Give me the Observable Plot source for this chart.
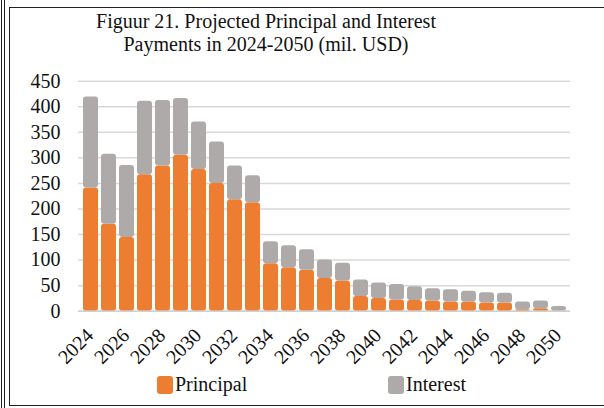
<!DOCTYPE html>
<html>
<head>
<meta charset="utf-8">
<script src="https://cdn.jsdelivr.net/npm/d3@7"></script>
<script src="https://cdn.jsdelivr.net/npm/@observablehq/plot@0.6"></script>
<style>
  html, body { margin: 0; padding: 0; background: #fff; }
  #root { position: relative; width: 604px; height: 408px; overflow: hidden; font-family: "Liberation Serif", "Times New Roman", serif; }
  .vline { position: absolute; top: 0; bottom: 0; width: 1px; background: #222; }
  #box { position: absolute; left: 9px; top: 7px; width: 620px; height: 399px; border: 1.5px solid #222; box-sizing: border-box; }
  #title { position: absolute; left: 66px; width: 400px; top: 10px; text-align: center; font-size: 20px; line-height: 23px; color: #111; }
  #chart { position: absolute; left: 0; top: 70px; }
  .leg { position: absolute; top: 373px; display: flex; align-items: center; font-size: 20px; color: #111; }
  .sw { width: 16px; height: 18px; border-radius: 3px; margin-right: 2px; }
</style>
</head>
<body>
<div id="root">
  <div class="vline" style="left:1px"></div>
  <div class="vline" style="left:4px"></div>
  <div id="box"></div>
  <div id="title">Figuur 21. Projected Principal and Interest<br>Payments in 2024-2050 (mil. USD)</div>
  <div id="chart"></div>
  <div class="leg" style="left:157px"><div class="sw" style="background:#ED7D31"></div>Principal</div>
  <div class="leg" style="left:388px"><div class="sw" style="background:#AEAAAA"></div>Interest</div>
</div>
<script>
const years = [2024,2025,2026,2027,2028,2029,2030,2031,2032,2033,2034,2035,2036,2037,2038,2039,2040,2041,2042,2043,2044,2045,2046,2047,2048,2049,2050];
const principal = [241,170,144,267,284,305,277,250,218,212,93,85,80,64,59,29,25,22,21,20,18,18,16,16,3,5,1];
const interest  = [178,137,141,144,128,111,93,81,66,53,43,43,40,36,35,32,30,30,27,24,24,21,20,19,15,15,8];
const yTicks = [0,50,100,150,200,250,300,350,400,450];
const xTickYears = [2024,2026,2028,2030,2032,2034,2036,2038,2040,2042,2044,2046,2048,2050];
const seriesNames = ["Principal", "Interest"];
const colors = ["#ED7D31", "#AEAAAA"];

const rows = [];
years.forEach((y, i) => {
  rows.push({year: y, series: seriesNames[0], value: principal[i]});
  rows.push({year: y, series: seriesNames[1], value: interest[i]});
});

const chart = Plot.plot({
  width: 604,
  height: 300,
  marginLeft: 78,
  marginRight: 34,
  marginTop: 10.7,
  marginBottom: 59.3,
  style: { fontFamily: '"Liberation Serif", "Times New Roman", serif', fontSize: "20px", color: "#111", background: "transparent" },
  x: { type: "band", domain: years, paddingInner: 0.17, paddingOuter: 0.08, label: null, axis: null },
  y: { domain: [0, 450], label: null },
  color: { domain: seriesNames, range: colors },
  marks: [
    Plot.ruleY(yTicks, { stroke: "#d9d9d9", strokeWidth: 1.5 }),
    Plot.barY(rows, Plot.stackY({ x: "year", y: "value", fill: "series", order: seriesNames, rx: 3 })),
    Plot.ruleY([0], { stroke: "#d0d0d0", strokeWidth: 1.5 }),
    Plot.axisY({ ticks: yTicks, tickSize: 0, tickPadding: 18, fontSize: 20, label: null }),
    Plot.text(xTickYears, { x: d => d, y: () => 0, text: d => String(d), rotate: -45, textAnchor: "end", lineAnchor: "middle", dx: -1, dy: 21, fontSize: 20, fill: "#111" })
  ]
});
document.getElementById("chart").appendChild(chart);
</script>
</body>
</html>
